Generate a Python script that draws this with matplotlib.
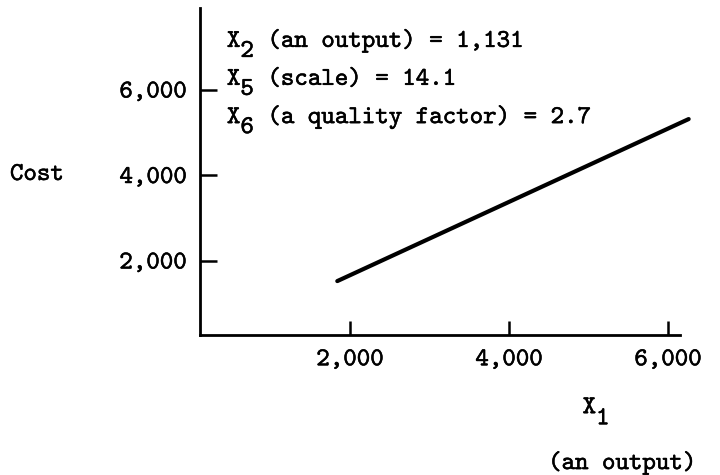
import matplotlib
matplotlib.use('Agg')
import matplotlib.pyplot as plt
import matplotlib.patheffects as pe
from matplotlib import ticker

# cost line vs. output X1
x1 = [1840, 6260]
cost = [1530, 5320]

x_ticks = [2000, 4000, 6000]
y_ticks = [2000, 4000, 6000]

# other variables held fixed: subscript and description
fixed_subs = ['2', '5', '6']
fixed_desc = ['(an output) = 1,131', '(scale) = 14.1', '(a quality factor) = 2.7']

# typewriter face shipped with matplotlib
plt.rcParams['font.family'] = ['cmtt10', 'DejaVu Sans Mono']
plt.rcParams['font.size'] = 18.5
ink = [pe.withStroke(linewidth=0.35, foreground='black')]
adv = 0.525 * 18.5  # cmtt advance width in points


def subscripted(x, y, sub, rest=None, drop=7.2):
    """Typewriter-style X with a lowered digit, then optional trailing text."""
    pos = dict(xycoords='axes fraction', textcoords='offset points',
               va='baseline', path_effects=ink)
    ax.annotate('X', (x, y), xytext=(0, 0), **pos)
    ax.annotate(sub, (x, y), xytext=(adv, -drop), **pos)
    if rest:
        ax.annotate(rest, (x, y), xytext=(3 * adv, 0), **pos)


fig = plt.figure(figsize=(7.2, 4.75), dpi=100)
ax = fig.add_axes([200 / 720, 140 / 475, 480 / 720, 327 / 475])

ax.plot(x1, cost, color='black', lw=3, solid_capstyle='round', clip_on=False)

ax.set_xlim(113, 6151)
ax.set_ylim(269, 7918)
ax.set_xticks(x_ticks)
ax.set_yticks(y_ticks)
fmt = ticker.StrMethodFormatter('{x:,.0f}')
ax.xaxis.set_major_formatter(fmt)
ax.yaxis.set_major_formatter(fmt)

for side in ['top', 'right']:
    ax.spines[side].set_visible(False)
for side in ['left', 'bottom']:
    ax.spines[side].set_linewidth(2)
    ax.spines[side].set_capstyle('projecting')

ax.tick_params(axis='x', direction='in', length=10, width=1.8, pad=11)
ax.tick_params(axis='y', direction='in', length=12, width=1.8, pad=9.5)
for lab in ax.get_xticklabels() + ax.get_yticklabels():
    lab.set_path_effects(ink)

# y label sits horizontally, level with the 4,000 tick label
ax.set_ylabel('Cost', rotation=0, ha='left', va='baseline', path_effects=ink)
ax.yaxis.set_label_coords(-0.396, 0.474)

# x label with subscript, plus a note underneath
subscripted(0.797, -0.239, '1', drop=8)
ax.text(0.725, -0.41, '(an output)', transform=ax.transAxes,
        va='baseline', path_effects=ink)

row_y = [0.881, 0.765, 0.648]
for sub, desc, y in zip(fixed_subs, fixed_desc, row_y):
    subscripted(0.056, y, sub, desc)

fig.savefig('out.png', dpi=100)
